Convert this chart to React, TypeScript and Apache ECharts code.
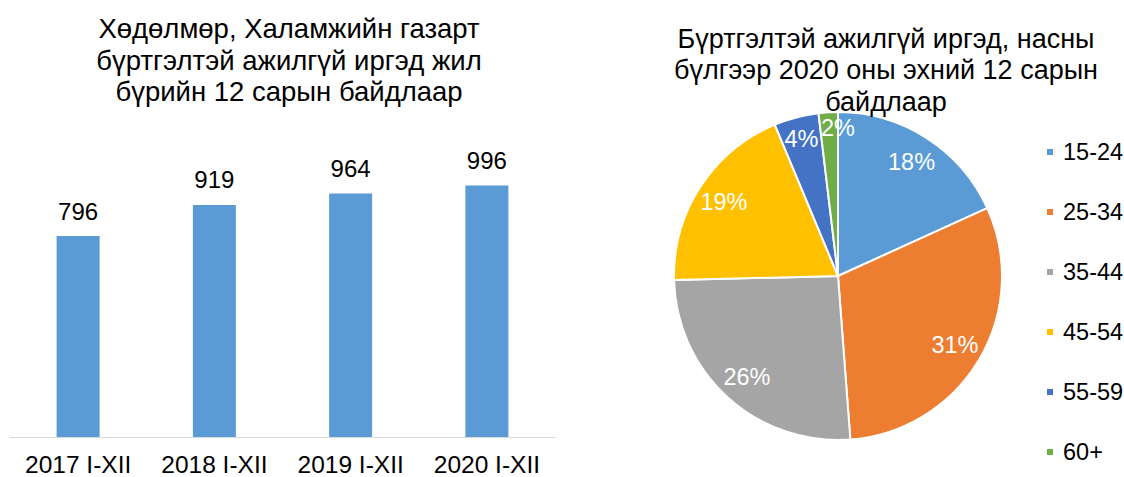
import React, { useEffect, useRef } from "react";
import * as echarts from "echarts";

const barTitle = "Хөдөлмөр, Халамжийн газарт\nбүртгэлтэй ажилгүй иргэд жил\nбүрийн 12 сарын байдлаар";
const pieTitle = "Бүртгэлтэй ажилгүй иргэд, насны\nбүлгээр 2020 оны эхний 12 сарын\nбайдлаар";
const barCategories = ["2017 I-XII", "2018 I-XII", "2019 I-XII", "2020 I-XII"];
const barValues = [796, 919, 964, 996];
const ageGroups = ["15-24", "25-34", "35-44", "45-54", "55-59", "60+"];
const ageShares = [18.2, 30.6, 25.8, 19.1, 4.4, 1.9];
const ageColors = ["#5B9BD5", "#ED7D31", "#A5A5A5", "#FFC000", "#4472C4", "#70AD47"];

const FONT = "Liberation Sans, Arial, sans-serif";

export default function App() {
  const ref = useRef<HTMLDivElement>(null);
  useEffect(() => {
    if (!ref.current) return;
    const chart = echarts.init(ref.current, undefined, { renderer: "svg" });
    const R = 164;
    const pieData = ageGroups.map((n, i) => ({ name: n, value: ageShares[i], itemStyle: { color: ageColors[i] } }));
    const labelData = ageGroups.map((n, i) => {
      const item: any = { name: n, value: ageShares[i] };
      if (i === ageGroups.length - 1) item.label = { offset: [8, -12] };
      if (i === ageGroups.length - 2) item.label = { offset: [-2, -6] };
      return item;
    });
    chart.setOption({
      animation: false,
      backgroundColor: "#fff",
      textStyle: { fontFamily: FONT },
      title: [
        {
          text: barTitle,
          left: 284,
          top: 8,
          textAlign: "center",
          textStyle: { fontFamily: FONT, fontSize: 27.5, fontWeight: "normal", color: "#000", lineHeight: 31.5 },
        },
        {
          text: pieTitle,
          left: 881,
          top: 18,
          textAlign: "center",
          textStyle: { fontFamily: FONT, fontSize: 27, fontWeight: "normal", color: "#000", lineHeight: 31.5 },
        },
      ],
      grid: { left: 10, right: 569, top: 134, bottom: 40, containLabel: false },
      xAxis: {
        type: "category",
        data: barCategories,
        axisLine: { show: true, lineStyle: { color: "#D9D9D9", width: 1 } },
        axisTick: { show: false },
        axisLabel: { interval: 0, fontFamily: FONT, fontSize: 24.5, color: "#000", margin: 15 },
      },
      yAxis: { type: "value", min: 0, max: 1200, show: false, splitLine: { show: false } },
      legend: {
        orient: "vertical",
        left: 1045,
        top: 140,
        padding: 0,
        itemWidth: 8,
        itemHeight: 8,
        itemGap: 36,
        icon: "rect",
        data: ageGroups,
        textStyle: { fontFamily: FONT, fontSize: 23.5, color: "#000", padding: [0, 0, 0, 4] },
      },
      series: [
        {
          type: "bar",
          data: barValues,
          barWidth: 43,
          itemStyle: { color: "#5B9BD5" },
          label: { show: true, position: "top", distance: 13, fontFamily: FONT, fontSize: 24, color: "#000" },
        },
        {
          type: "pie",
          name: "main",
          center: [838, 276],
          radius: [0, R],
          startAngle: 90,
          clockwise: true,
          percentPrecision: 0,
          data: pieData,
          itemStyle: { borderColor: "#fff", borderWidth: 2 },
          label: { show: false },
          labelLine: { show: false },
          emphasis: { disabled: true },
        },
        {
          type: "pie",
          name: "labels",
          center: [838, 276],
          radius: [R * 0.62, R],
          startAngle: 90,
          clockwise: true,
          percentPrecision: 0,
          avoidLabelOverlap: false,
          minShowLabelAngle: 0,
          labelLayout: { hideOverlap: false },
          silent: true,
          data: labelData,
          itemStyle: { color: "rgba(0,0,0,0)", borderWidth: 0 },
          label: { show: true, position: "inside", formatter: "{d}%", fontFamily: FONT, fontSize: 23.5, color: "#fff", overflow: "none" },
          labelLine: { show: false },
          emphasis: { disabled: true },
        },
      ],
    });
    return () => chart.dispose();
  }, []);
  return <div ref={ref} style={{ position: "fixed", left: 0, top: 0, width: 1124, height: 477 }} />;
}
